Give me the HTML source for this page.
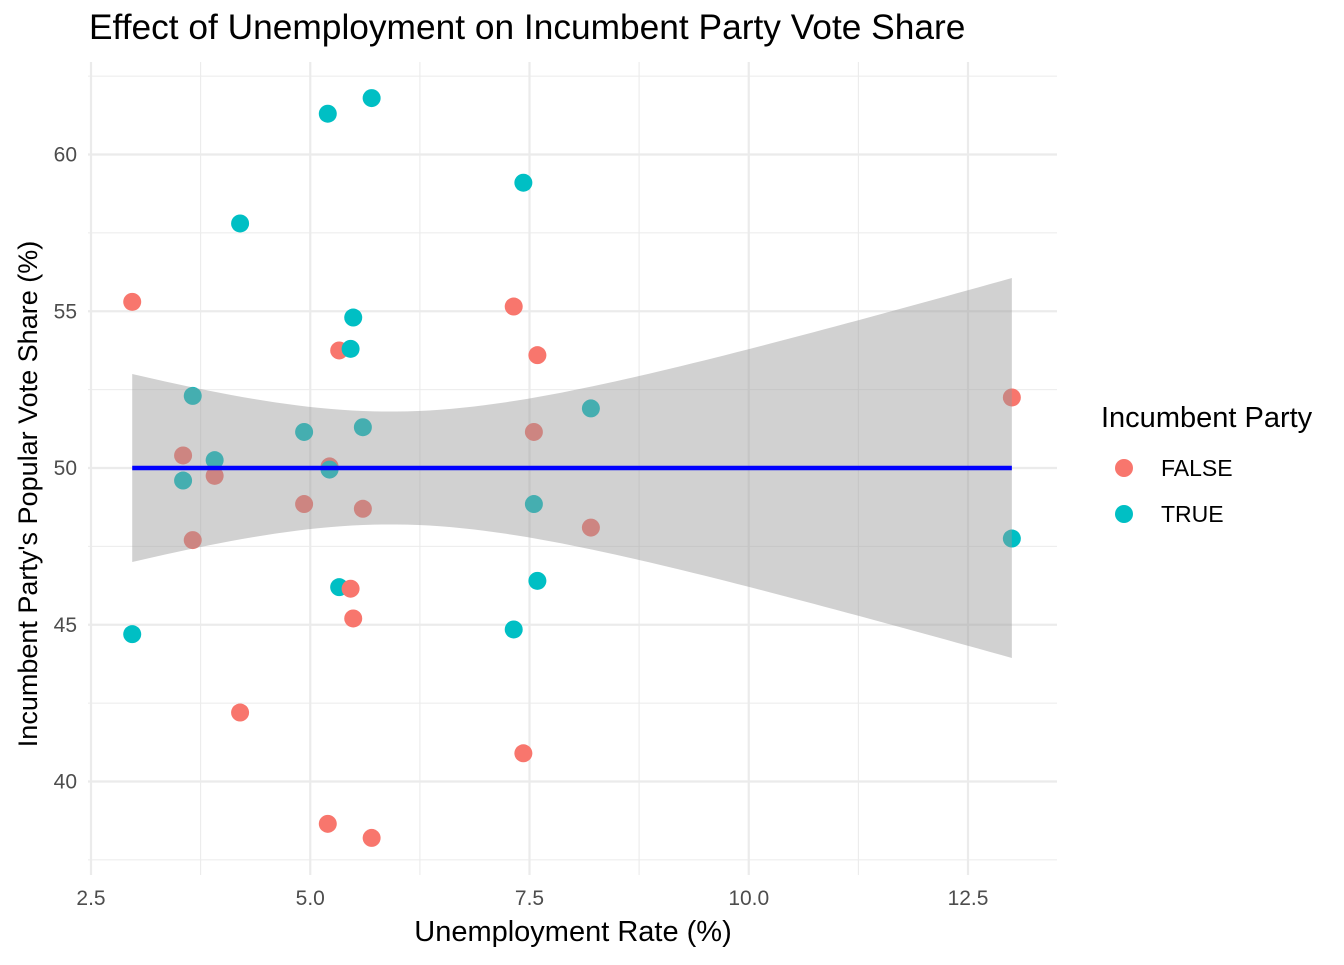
<!DOCTYPE html>
<html><head><meta charset="utf-8"><style>
body{margin:0;background:#fff;}
svg text{font-family:"Liberation Sans",Arial,sans-serif;}
</style></head><body>
<svg id="chart" width="1344" height="960" xmlns="http://www.w3.org/2000/svg">
<text x="89" y="39" font-size="35.3" fill="#000">Effect of Unemployment on Incumbent Party Vote Share</text>
<g id="grid"></g>
<g id="points"></g>
<g id="ribbon"></g>
<g id="axes"></g>
<text x="573" y="941" font-size="29" text-anchor="middle">Unemployment Rate (%)</text>
<text transform="translate(37,494) rotate(-90)" font-size="27" text-anchor="middle">Incumbent Party's Popular Vote Share (%)</text>
<g>
<text x="1101" y="427" font-size="29">Incumbent Party</text>
<g><circle cx="1124" cy="468" r="9" fill="#F8766D"/><text x="1161" y="476" font-size="23">FALSE</text></g>
<g><circle cx="1124" cy="514" r="9" fill="#00BFC4"/><text x="1161" y="522" font-size="23">TRUE</text></g>
</g>
</svg>
<script>
const unemp = [2.97,3.55,3.66,3.91,4.2,4.93,5.2,5.22,5.33,5.46,5.49,5.6,5.7,7.32,7.43,7.55,7.59,8.2,13.0];
const voteTrue = [44.7,49.6,52.3,50.25,57.8,51.15,61.3,49.95,46.2,53.8,54.8,51.3,61.8,44.85,59.1,48.85,46.4,51.9,47.75];
const voteFalse = [55.3,50.4,47.7,49.75,42.2,48.85,38.65,50.05,53.75,46.15,45.2,48.7,38.2,55.15,40.9,51.15,53.6,48.1,52.25];
const xTicks = [2.5,5.0,7.5,10.0,12.5];
const xTickLabels = ["2.5","5.0","7.5","10.0","12.5"];
const yTicks = [40,45,50,55,60];
const yTickLabels = ["40","45","50","55","60"];
const fitLevel = 50;

const NS="http://www.w3.org/2000/svg";
const X0=88,X1=1057,Y0=62,Y1=875;
const sx=v=>91+(v-2.5)*87.7;
const sy=v=>468-(v-50)*31.35;
function mk(p,tag,attrs){const e=document.createElementNS(NS,tag);for(const k in attrs)e.setAttribute(k,attrs[k]);p.appendChild(e);return e;}
const grid=document.getElementById('grid');
for(let i=0;i<xTicks.length-1;i++){const m=(xTicks[i]+xTicks[i+1])/2;const l=mk(grid,'line',{x1:sx(m),x2:sx(m),y1:Y0,y2:Y1,stroke:'#ebebeb','stroke-width':1.1});

}
for(let i=0;i<=yTicks.length;i++){const m=i<yTicks.length?yTicks[i]-2.5:yTicks[i-1]+2.5;const l=mk(grid,'line',{x1:X0,x2:X1,y1:sy(m),y2:sy(m),stroke:'#ebebeb','stroke-width':1.1});

}
const axes=document.getElementById('axes');
xTicks.forEach((t,i)=>{const l=mk(grid,'line',{x1:sx(t),x2:sx(t),y1:Y0,y2:Y1,stroke:'#ebebeb','stroke-width':2.2});


const tx=mk(axes,'text',{x:sx(t),y:905,'font-size':21,'text-anchor':'middle',fill:'#4d4d4d'});tx.textContent=xTickLabels[i];

});
yTicks.forEach((t,i)=>{const l=mk(grid,'line',{x1:X0,x2:X1,y1:sy(t),y2:sy(t),stroke:'#ebebeb','stroke-width':2.2});


const tx=mk(axes,'text',{x:77,y:sy(t)+7,'font-size':21,'text-anchor':'end',fill:'#4d4d4d'});tx.textContent=yTickLabels[i];

});
const n=unemp.length;const xm=unemp.reduce((a,b)=>a+b,0)/n;
const xmin=Math.min(...unemp),xmax=Math.max(...unemp);
const hw=x=>Math.sqrt(3.24+0.666*(x-xm)*(x-xm));
let up=[],lo=[];
for(let k=0;k<=80;k++){const x=xmin+(xmax-xmin)*k/80;up.push(sx(x)+','+sy(fitLevel+hw(x)));lo.push(sx(x)+','+sy(fitLevel-hw(x)));}
const pts=document.getElementById('points');
unemp.forEach((x,i)=>{
const a=mk(pts,'circle',{cx:sx(x),cy:sy(voteFalse[i]),r:9,fill:'#F8766D'});


const b=mk(pts,'circle',{cx:sx(x),cy:sy(voteTrue[i]),r:9,fill:'#00BFC4'});

});
const rib=document.getElementById('ribbon');
const poly=mk(rib,'polygon',{points:up.concat(lo.reverse()).join(' '),fill:'#999',opacity:0.45});


const fl=mk(rib,'line',{x1:sx(xmin),x2:sx(xmax),y1:sy(fitLevel),y2:sy(fitLevel),stroke:'#0000ff','stroke-width':4.5});


</script>
</body></html>
